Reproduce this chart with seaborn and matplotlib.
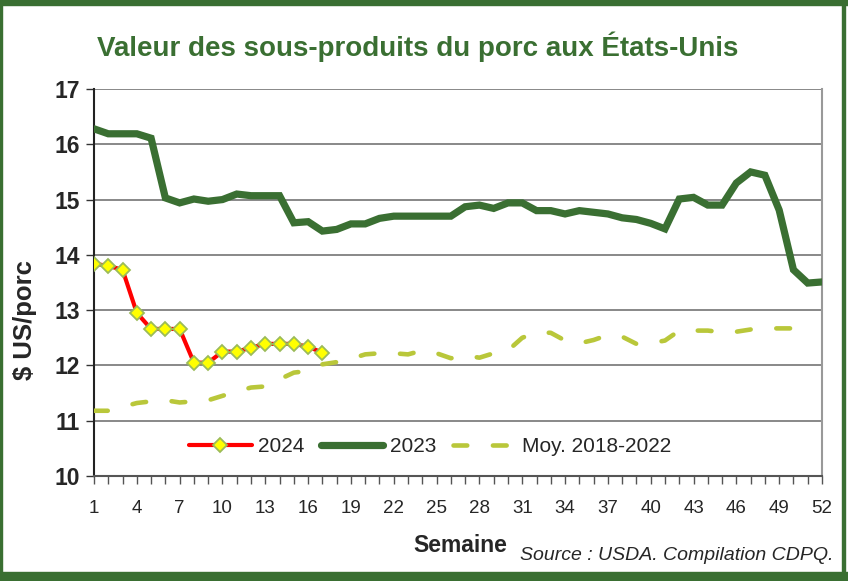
import numpy as np
import pandas as pd
import matplotlib
matplotlib.use("Agg")
import matplotlib.pyplot as plt
import seaborn as sns
from matplotlib.patches import Rectangle

weeks = list(range(1, 53))

val_2023 = [16.28, 16.19, 16.19, 16.19, 16.11, 15.03, 14.94, 15.01, 14.97, 15.00,
            15.10, 15.07, 15.07, 15.07, 14.58, 14.60, 14.43, 14.46, 14.56, 14.56,
            14.66, 14.70, 14.70, 14.70, 14.70, 14.70, 14.87, 14.90, 14.84, 14.94,
            14.94, 14.80, 14.80, 14.74, 14.80, 14.77, 14.74, 14.67, 14.64, 14.57,
            14.47, 15.01, 15.04, 14.90, 14.90, 15.30, 15.50, 15.44, 14.81, 13.73,
            13.49, 13.51]

val_2024 = [13.84, 13.80, 13.73, 12.95, 12.66, 12.66, 12.66, 12.05, 12.05, 12.25,
            12.25, 12.32, 12.39, 12.39, 12.39, 12.34, 12.23]

val_moy = [11.18, 11.18, 11.25, 11.32, 11.35, 11.37, 11.33, 11.35, 11.37, 11.45,
           11.53, 11.60, 11.62, 11.75, 11.87, 11.90, 12.02, 12.06, 12.12, 12.20,
           12.22, 12.22, 12.20, 12.27, 12.22, 12.13, 12.18, 12.14, 12.22, 12.27,
           12.50, 12.60, 12.59, 12.45, 12.40, 12.46, 12.55, 12.52, 12.39, 12.40,
           12.45, 12.63, 12.63, 12.63, 12.60, 12.61, 12.65, 12.67, 12.67, 12.67]

xtick_labels = [1, 4, 7, 10, 13, 16, 19, 22, 25, 28, 31, 34, 37, 40, 43, 46, 49, 52]

GREEN = "#3a6f32"
LIME = "#b9c73a"

sns.set_style("white")
plt.rcParams["font.family"] = ["Liberation Sans", "DejaVu Sans"]

fig = plt.figure(figsize=(8.48, 5.81), dpi=100)
ax = fig.add_axes([94 / 848, 1 - 476 / 581, 728 / 848, 387 / 581])

df24 = pd.DataFrame({"Semaine": weeks[:len(val_2024)], "v": val_2024})
df23 = pd.DataFrame({"Semaine": weeks, "v": val_2023})
dfm = pd.DataFrame({"Semaine": weeks[:len(val_moy)], "v": val_moy})

sns.lineplot(data=df24, x="Semaine", y="v", ax=ax, color="#ff0000", lw=3,
             marker="D", markersize=7, markerfacecolor="#ffff00",
             markeredgecolor="#9bbb59", markeredgewidth=1.3, label="2024", zorder=5)
sns.lineplot(data=df23, x="Semaine", y="v", ax=ax, color=GREEN, lw=5.2,
             label="2023", zorder=4, solid_joinstyle="miter")
sns.lineplot(data=dfm, x="Semaine", y="v", ax=ax, color=LIME, lw=3.3,
             dashes=False, label="Moy. 2018-2022", zorder=3)
ax.lines[-1].set_dashes([3.0, 5.6])
ax.lines[-1].set_dash_capstyle("round")

ax.set_xlim(1, 52)
ax.set_ylim(10, 17)
ax.set_yticks(range(10, 18))
ax.set_yticklabels([str(v) for v in range(10, 18)], fontsize=16.5, fontweight="bold")
ax.set_xticks(xtick_labels)
ax.set_xticklabels([str(v) for v in xtick_labels], fontsize=13.5)
ax.set_xticks(weeks, minor=True)
ax.tick_params(axis="x", which="both", direction="out", length=6, width=1,
               color="#555555", bottom=True, pad=11)
ax.tick_params(axis="y", direction="out", length=6, width=1, color="#333333",
               left=True, pad=4)

ax.grid(axis="y", color="#7f7f7f", lw=1.3)
ax.grid(axis="x", visible=False)
ax.set_axisbelow(True)
ax.spines["top"].set_visible(False)
ax.spines["left"].set_color("#222222")
ax.spines["left"].set_linewidth(1.5)
ax.spines["bottom"].set_color("#555555")
ax.spines["bottom"].set_linewidth(1.5)
ax.spines["right"].set_color("#999999")
ax.spines["right"].set_linewidth(1.5)

ax.set_ylabel("")
ax.set_xlabel("")
fig.text(25 / 848, 1 - 320 / 581, "$ US/porc", fontsize=18.5, fontweight="bold",
         rotation=90, ha="center", va="center")
fig.text(460 / 848, 1 - 546 / 581, "Semaine", fontsize=16.5, fontweight="bold",
         ha="center", va="center")
fig.text(833 / 848, 1 - 555 / 581, "Source : USDA. Compilation CDPQ.", fontsize=14,
         style="italic", ha="right", va="center")

fig.text(418 / 848, 1 - 47 / 581, "Valeur des sous-produits du porc aux États-Unis",
         fontsize=20, fontweight="bold", color=GREEN, ha="center", va="center")

leg = ax.legend(loc="center", bbox_to_anchor=(0.4615, 0.075), ncol=3, frameon=False,
                fontsize=15, handlelength=3.0, columnspacing=0.8, handletextpad=0.3)

# green frame around the picture
fig.patches.append(Rectangle((0, 1 - 5 / 581), 1, 5 / 581, transform=fig.transFigure,
                             color=GREEN, zorder=0))
fig.patches.append(Rectangle((0, 0), 1, 9 / 581, transform=fig.transFigure,
                             color=GREEN, zorder=0))
fig.patches.append(Rectangle((0, 0), 2 / 848, 1, transform=fig.transFigure,
                             color=GREEN, zorder=0))
fig.patches.append(Rectangle((842 / 848, 0), 3 / 848, 1, transform=fig.transFigure,
                             color=GREEN, zorder=0))

fig.savefig("out.png", dpi=100)
